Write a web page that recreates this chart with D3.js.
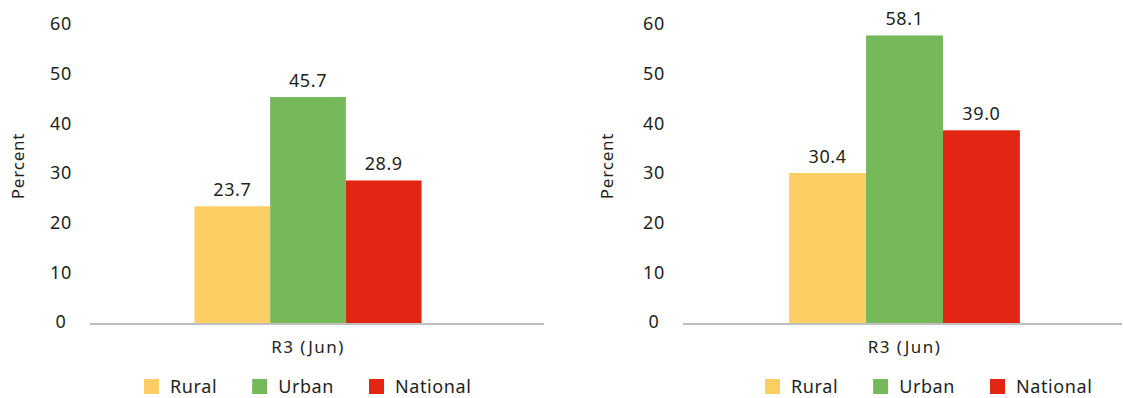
<!DOCTYPE html>
<html>
<head>
<meta charset="utf-8">
<script src="https://cdn.jsdelivr.net/npm/d3@7"></script>
<style>
  html, body { margin: 0; padding: 0; background: #fff; }
  svg text { font-family: "Noto Sans", sans-serif; fill: #231f20; }
</style>
</head>
<body>
<svg id="chart" width="1123" height="398"></svg>
<script>
// Data
const categories = ["R3 (Jun)"];
const seriesNames = ["Rural", "Urban", "National"];
const seriesColors = ["#fdce63", "#76b95b", "#e32514"];
const leftValues = [23.7, 45.7, 28.9];
const rightValues = [30.4, 58.1, 39.0];
const yTicks = [0, 10, 20, 30, 40, 50, 60];
const yTitle = "Percent";

const svg = d3.select("#chart");

const y = d3.scaleLinear().domain([0, 60]).range([324, 26]);

const panels = [
  { values: leftValues,  tickX: 61,  titleX: 18,  axis: [90, 544],  band: [90, 526],  legendX: 144 },
  { values: rightValues, tickX: 654, titleX: 607, axis: [683, 1122], band: [683, 1126], legendX: 765 }
];

function label(sel, size, spacing) {
  return sel.style("font-size", size + "px").style("letter-spacing", spacing + "px");
}

panels.forEach(p => {
  const g = svg.append("g");

  const x0 = d3.scaleBand().domain(categories).range(p.band).paddingOuter(0.46);
  const x1 = d3.scaleBand().domain(seriesNames).range([0, x0.bandwidth()]);
  const color = d3.scaleOrdinal().domain(seriesNames).range(seriesColors);

  // y tick labels (no axis line)
  g.selectAll("text.ytick").data(yTicks).join("text")
    .attr("class", "ytick")
    .attr("x", p.tickX)
    .attr("y", d => y(d) - 2)
    .attr("dy", "0.35em")
    .attr("text-anchor", "middle")
    .call(label, 18, 0.6)
    .text(d => d);

  // y title
  g.append("text")
    .attr("transform", `translate(${p.titleX},166) rotate(-90)`)
    .attr("text-anchor", "middle")
    .attr("dy", "0.35em")
    .call(label, 17, 0.8)
    .text(yTitle);

  // bars
  const cat = g.selectAll("g.cat").data(categories).join("g")
    .attr("class", "cat")
    .attr("transform", d => `translate(${x0(d)},0)`);

  const rows = seriesNames.map((s, i) => ({ key: s, value: p.values[i] }));

  cat.selectAll("rect").data(rows).join("rect")
    .attr("x", d => x1(d.key))
    .attr("y", d => y(d.value))
    .attr("width", x1.bandwidth())
    .attr("height", d => y(0) - y(d.value))
    .attr("fill", d => color(d.key));

  cat.selectAll("text.val").data(rows).join("text")
    .attr("class", "val")
    .attr("x", d => x1(d.key) + x1.bandwidth() / 2)
    .attr("y", d => y(d.value) - 10)
    .attr("text-anchor", "middle")
    .call(label, 18, 0.6)
    .text(d => d.value.toFixed(1));

  // category axis line
  g.append("line")
    .attr("x1", p.axis[0]).attr("x2", p.axis[1])
    .attr("y1", y(0)).attr("y2", y(0))
    .attr("stroke", "#bfbfbf").attr("stroke-width", 2);

  // category label
  g.selectAll("text.cat").data(categories).join("text")
    .attr("class", "cat")
    .attr("x", d => x0(d) + x0.bandwidth() / 2)
    .attr("y", 353)
    .attr("text-anchor", "middle")
    .call(label, 17, 1.4)
    .text(d => d);

  // legend
  const legend = g.append("g").attr("transform", `translate(${p.legendX},379)`);
  let cx = 0;
  seriesNames.forEach(s => {
    const item = legend.append("g").attr("transform", `translate(${cx},0)`);
    item.append("rect").attr("width", 15).attr("height", 15).attr("fill", color(s));
    const t = item.append("text")
      .attr("x", 26).attr("y", 8).attr("dy", "0.35em")
      .call(label, 18, 0.6)
      .text(s);
    cx += 26 + t.node().getComputedTextLength() + 35;
  });
});
</script>
</body>
</html>
